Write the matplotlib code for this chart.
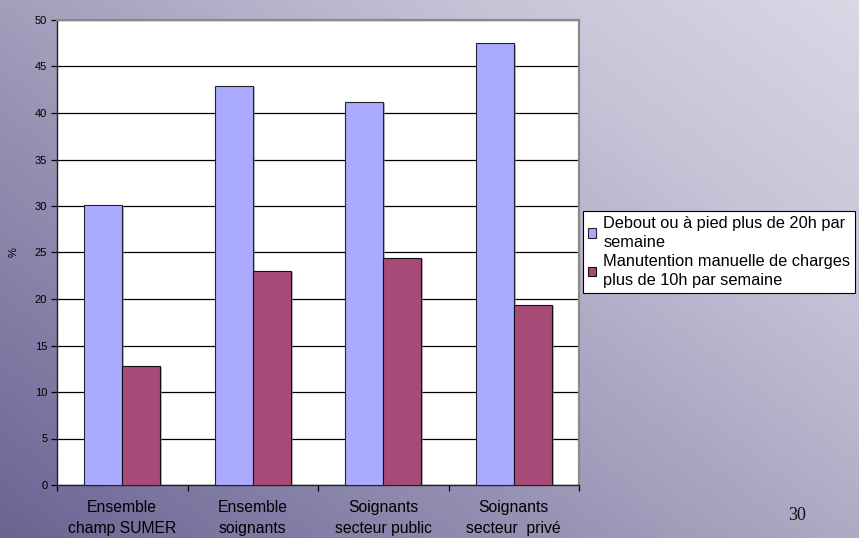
import numpy as np
import matplotlib
matplotlib.use("Agg")
import matplotlib.pyplot as plt
from matplotlib.patches import Patch
from matplotlib.colors import LinearSegmentedColormap
import matplotlib.patheffects as pe

categories = ["Ensemble\nchamp SUMER", "Ensemble\nsoignants",
              "Soignants\nsecteur public", "Soignants\nsecteur  privé"]
debout = [30.1, 42.9, 41.2, 47.5]
manutention = [12.8, 23.0, 24.4, 19.4]
series_labels = ["Debout ou à pied plus de 20h par\nsemaine",
                 "Manutention manuelle de charges\nplus de 10h par semaine"]
y_ticks = list(range(0, 51, 5))
page_number = "30"

blue = "#AAAAFF"
plum = "#A84A77"

fig = plt.figure(figsize=(8.59, 5.38), dpi=100)

# slide background: diagonal gradient, dark bottom-left to light top-right
bg = fig.add_axes([0, 0, 1, 1], zorder=-10)
bg.set_axis_off()
h, w = 269, 430
yy, xx = np.mgrid[0:1:h * 1j, 0:1:w * 1j]
t = np.clip(0.55 * xx + 0.45 * (1 - yy), 0, 1)  # yy=0 top row
cmap = LinearSegmentedColormap.from_list(
    "slide", [(0.0, "#6A6493"), (0.45, "#A29EBC"), (0.75, "#C6C3D7"), (1.0, "#DAD8E5")])
bg.imshow(cmap(t), aspect="auto", extent=[0, 1, 0, 1], origin="upper")
bg.set_xlim(0, 1)
bg.set_ylim(0, 1)

ax = fig.add_axes([57 / 859, 1 - 485 / 538, 522 / 859, 465 / 538])
ax.set_facecolor("white")

x = np.arange(len(categories))
bw = 0.29
shadow = [pe.SimplePatchShadow(offset=(1.5, -1), shadow_rgbFace="#888888", alpha=0.6), pe.Normal()]
b1 = ax.bar(x - bw / 2, debout, bw, color=blue, edgecolor="#222233", linewidth=0.8, zorder=3)
b2 = ax.bar(x + bw / 2, manutention, bw, color=plum, edgecolor="#111111", linewidth=0.8, zorder=3)
for b in list(b1) + list(b2):
    b.set_path_effects(shadow)

ax.set_xlim(-0.5, len(categories) - 0.5)
ax.set_ylim(0, 50)
ax.set_yticks(y_ticks)
ax.set_yticklabels([str(v) for v in y_ticks], fontsize=8, family="Liberation Sans")
ax.yaxis.grid(True, color="black", linewidth=0.9, zorder=1)
ax.set_axisbelow(True)

ax.set_xticks(x)
ax.set_xticklabels(categories, fontsize=11.3, family="Liberation Sans", linespacing=1.45)
ax.tick_params(axis="x", which="major", length=0, pad=11)
ax.set_xticks(np.arange(-0.5, len(categories), 1.0), minor=True)
ax.tick_params(axis="x", which="minor", length=4, width=0.9, direction="out", color="black")
ax.tick_params(axis="y", length=4, width=0.9, direction="out", pad=3)

for s in ["left", "bottom"]:
    ax.spines[s].set_color("#222222")
    ax.spines[s].set_linewidth(1.0)
for s in ["top", "right"]:
    ax.spines[s].set_color("#8A8A8A")
    ax.spines[s].set_linewidth(1.6)

ax.set_ylabel("%", fontsize=8, family="Liberation Sans", labelpad=12)

handles = [Patch(facecolor=blue, edgecolor="#222233", linewidth=0.8),
           Patch(facecolor=plum, edgecolor="#111111", linewidth=0.8)]
leg = fig.legend(handles, series_labels, loc="upper left",
                 bbox_to_anchor=(583 / 859, 1 - 211 / 538),
                 prop={"family": "Liberation Sans", "size": 11.8},
                 frameon=True, fancybox=False, edgecolor="black", framealpha=1,
                 handlelength=0.5, handleheight=0.5, handletextpad=0.45,
                 borderpad=0.3, labelspacing=0.3, borderaxespad=0)
for txt in leg.get_texts():
    txt.set_linespacing(1.3)
leg.get_frame().set_linewidth(0.8)

fig.text(797 / 859, 1 - 516 / 538, page_number, fontsize=13, family="Liberation Serif",
         ha="center", va="center", color="#111111")

fig.savefig("out.png", dpi=100)
